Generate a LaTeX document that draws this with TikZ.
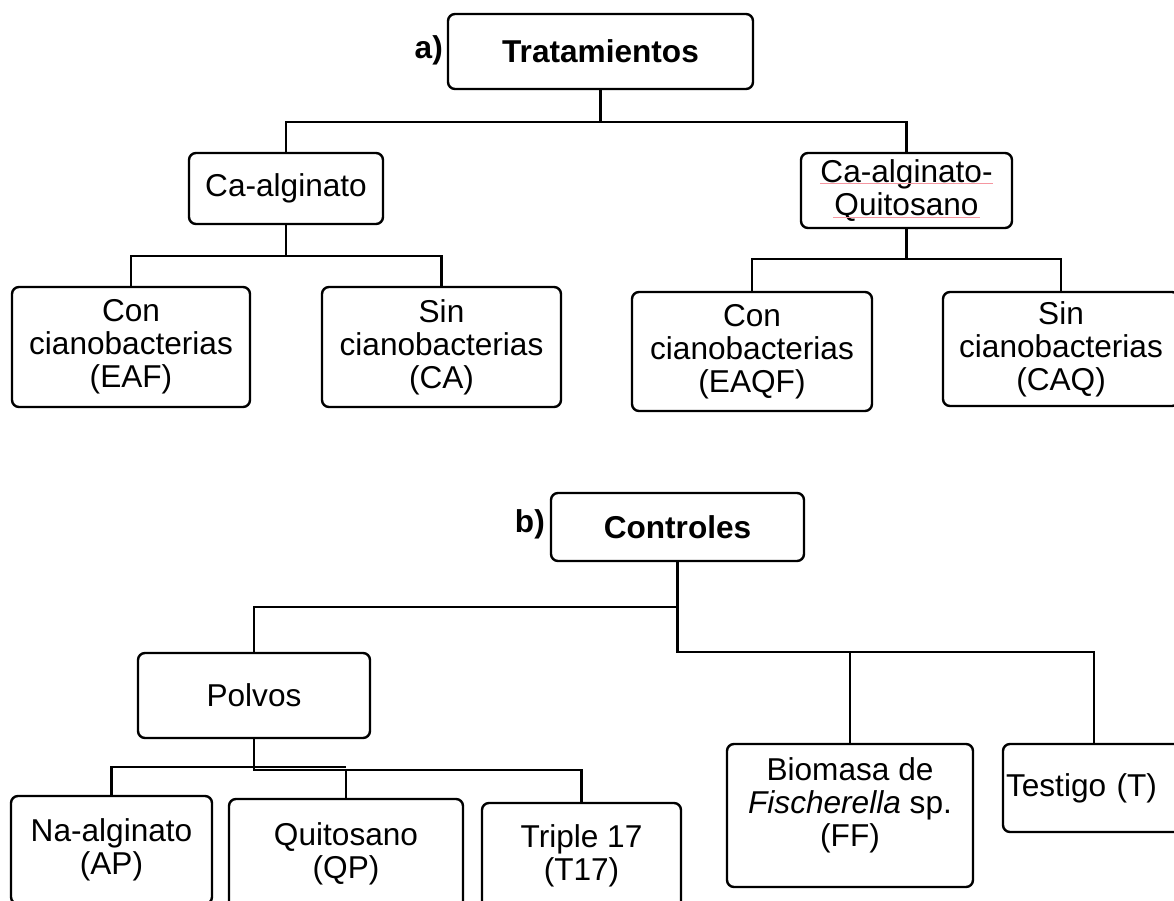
\documentclass[tikz,border=0pt]{standalone}
\usepackage{fontspec}
\setmainfont{Liberation Sans}
\definecolor{spell}{RGB}{245,150,160}
\begin{document}
\begin{tikzpicture}[x=1pt,y=-1pt,
  box/.style={draw=black, line width=2.4pt, rounded corners=7pt, align=center, inner sep=0pt, font=\fontsize{31.6}{33}\selectfont},
  txt/.style={align=center, inner sep=0pt, font=\fontsize{31.6}{33}\selectfont},
  conn/.style={draw=black, line width=2.3pt},
  lbl/.style={font=\bfseries\fontsize{31.6}{33}\selectfont, inner sep=0pt},
  spellline/.style={draw=spell, line width=0.8pt}]
\useasboundingbox (0,0) rectangle (1174,901);
\clip (0,0) rectangle (1174,901);
% ---------- a) Tratamientos ----------
\node[box, minimum width=305pt, minimum height=75pt] (trat) at (600.5,51.5) {\textbf{Tratamientos}};
\node[lbl, anchor=east] (la) at (443,50) {a)};
\node[box, minimum width=194pt, minimum height=71pt] (calg) at (286,188.5) {Ca-alginato};
\node[box, minimum width=211pt, minimum height=75pt] (caq) at (906.5,190.5) {Ca-alginato-\\Quitosano};
\node[box, minimum width=238pt, minimum height=120pt] (eaf) at (131,347) {Con\\cianobacterias\\(EAF)};
\node[box, minimum width=239pt, minimum height=120pt] (ca) at (441.5,347) {Sin\\cianobacterias\\(CA)};
\node[box, minimum width=240pt, minimum height=119pt] (eaqf) at (752,351.5) {Con\\cianobacterias\\(EAQF)};
\node[box, minimum width=236pt, minimum height=114pt] (caqb) at (1061,349) {Sin\\cianobacterias\\(CAQ)};
\draw[spellline] (820,183) -- (993,183);
\draw[spellline] (833,217) -- (980,217);
\coordinate (j1) at (600.5,122);
\coordinate (j2) at (286,256);
\coordinate (j3) at (906.5,259);
\draw[conn] (trat.south) -- (j1);
\draw[conn] (calg.north) -- (calg.north |- j1) -- (caq.north |- j1) -- (caq.north);
\draw[conn] (calg.south) -- (j2);
\draw[conn] (eaf.north) -- (eaf.north |- j2) -- (ca.north |- j2) -- (ca.north);
\draw[conn] (caq.south) -- (j3);
\draw[conn] (eaqf.north) -- (eaqf.north |- j3) -- (caqb.north |- j3) -- (caqb.north);
% ---------- b) Controles ----------
\node[box, minimum width=253pt, minimum height=68pt] (ctrl) at (677.5,527) {\textbf{Controles}};
\node[lbl, anchor=east] (lb) at (545,524) {b)};
\node[box, minimum width=232pt, minimum height=85pt] (pol) at (254,695.5) {Polvos};
\node[box, minimum width=201pt, minimum height=108pt] (nap) at (111.5,850) {Na-alginato\\(AP)};
\node[box, minimum width=234pt, minimum height=110pt] (quit) at (346,854) {Quitosano\\(QP)};
\node[box, minimum width=199pt, minimum height=106pt] (trip) at (581.5,856) {Triple 17\\(T17)};
\node[box, minimum width=246pt, minimum height=143pt] (bio) at (850,815.5) {};
\node[txt] (biot) at (850,805) {Biomasa de\\\textit{Fischerella} sp.\\(FF)};
\node[box, minimum width=182pt, minimum height=88pt, text width=176pt, inner xsep=3pt, align=left] (test) at (1094,788) {Testigo (T)};
\coordinate (k1) at (677.5,607);
\coordinate (k2) at (677.5,652);
\coordinate (pa) at (346,767);
\coordinate (pb) at (254,770);
\draw[conn] (ctrl.south) -- (k2) -- (test.north |- k2) -- (test.north);
\draw[conn] (k1) -- (pol.north |- k1) -- (pol.north);
\draw[conn] (bio.north |- k2) -- (bio.north);
\draw[conn] (nap.north) |- (pa);
\draw[conn] (pol.south) -- (pb) -- (trip.north |- pb) -- (trip.north);
\draw[conn] (quit.north) -- (quit.north |- pb);
\end{tikzpicture}
\end{document}
